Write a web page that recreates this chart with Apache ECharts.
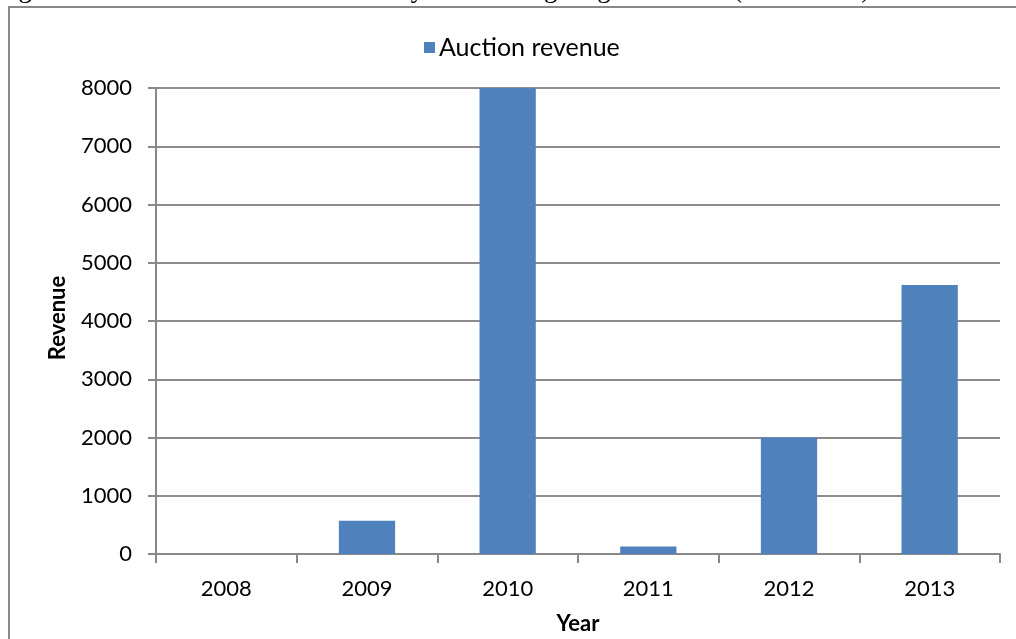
<!DOCTYPE html>
<html>
<head>
<meta charset="utf-8">
<script src="https://cdn.jsdelivr.net/npm/echarts@6/dist/echarts.min.js"></script>
<style>
html,body{margin:0;padding:0;background:#fff;overflow:hidden;}
#chart{width:1016px;height:639px;}
</style>
</head>
<body>
<div id="chart"></div>
<script>
var years = ['2008', '2009', '2010', '2011', '2012', '2013'];
var revenue = [0, 570, 8000, 130, 2000, 4620];
var seriesName = 'Auction revenue';
var caption = 'Figure 4: Auction revenues obtained by the Norwegian government (1000 NOK).';
var yAxisTitle = 'Revenue';
var xAxisTitle = 'Year';

var chart = echarts.init(document.getElementById('chart'), null, {width: 1016, height: 639});
var font = 'Lato, "Open Sans", sans-serif';
chart.setOption({
  animation: false,
  backgroundColor: '#fff',
  graphic: [
    {type: 'polyline', shape: {points: [[9, 660], [9, 7], [1030, 7]]}, style: {fill: 'none', stroke: '#888', lineWidth: 2}},
    {type: 'text', x: -4, y: 3, style: {text: caption, font: '27px "Liberation Serif", serif', fill: '#000', verticalAlign: 'bottom'}},
    {type: 'text', x: 58, y: 318, rotation: Math.PI / 2, style: {text: yAxisTitle, font: 'bold 22px ' + font, fill: '#000', align: 'center', verticalAlign: 'middle'}}
  ],
  legend: {
    data: [seriesName],
    left: 419, top: 30,
    icon: 'rect', itemWidth: 11, itemHeight: 11, itemGap: 4,
    textStyle: {fontFamily: font, fontSize: 25, color: '#000', padding: [0,0,0,-1]}
  },
  grid: {left: 156, width: 844, top: 88, height: 466, containLabel: false, outerBoundsMode: 'none'},
  xAxis: {
    type: 'category', data: years,
    name: xAxisTitle, nameLocation: 'middle', nameGap: 59,
    nameTextStyle: {fontFamily: font, fontSize: 22, fontWeight: 'bold', color: '#000'},
    axisLine: {lineStyle: {color: '#888', width: 2}},
    axisTick: {show: true, length: 9, lineStyle: {color: '#888', width: 2}},
    axisLabel: {fontFamily: font, fontSize: 22, color: '#000', margin: 24}
  },
  yAxis: {
    type: 'value', min: 0, max: 8000, interval: 1000,
    axisLine: {show: true, lineStyle: {color: '#888', width: 2}},
    axisTick: {show: true, length: 8, lineStyle: {color: '#888', width: 2}},
    axisLabel: {fontFamily: font, fontSize: 22, color: '#000', margin: 24, formatter: function (v) { return String(v); }},
    splitLine: {lineStyle: {color: '#8c8c8c', width: 2}}
  },
  series: [{
    name: seriesName, type: 'bar', data: revenue,
    barCategoryGap: '60%',
    itemStyle: {color: '#4f81bd', borderWidth: 0}
  }]
});
</script>
</body>
</html>
